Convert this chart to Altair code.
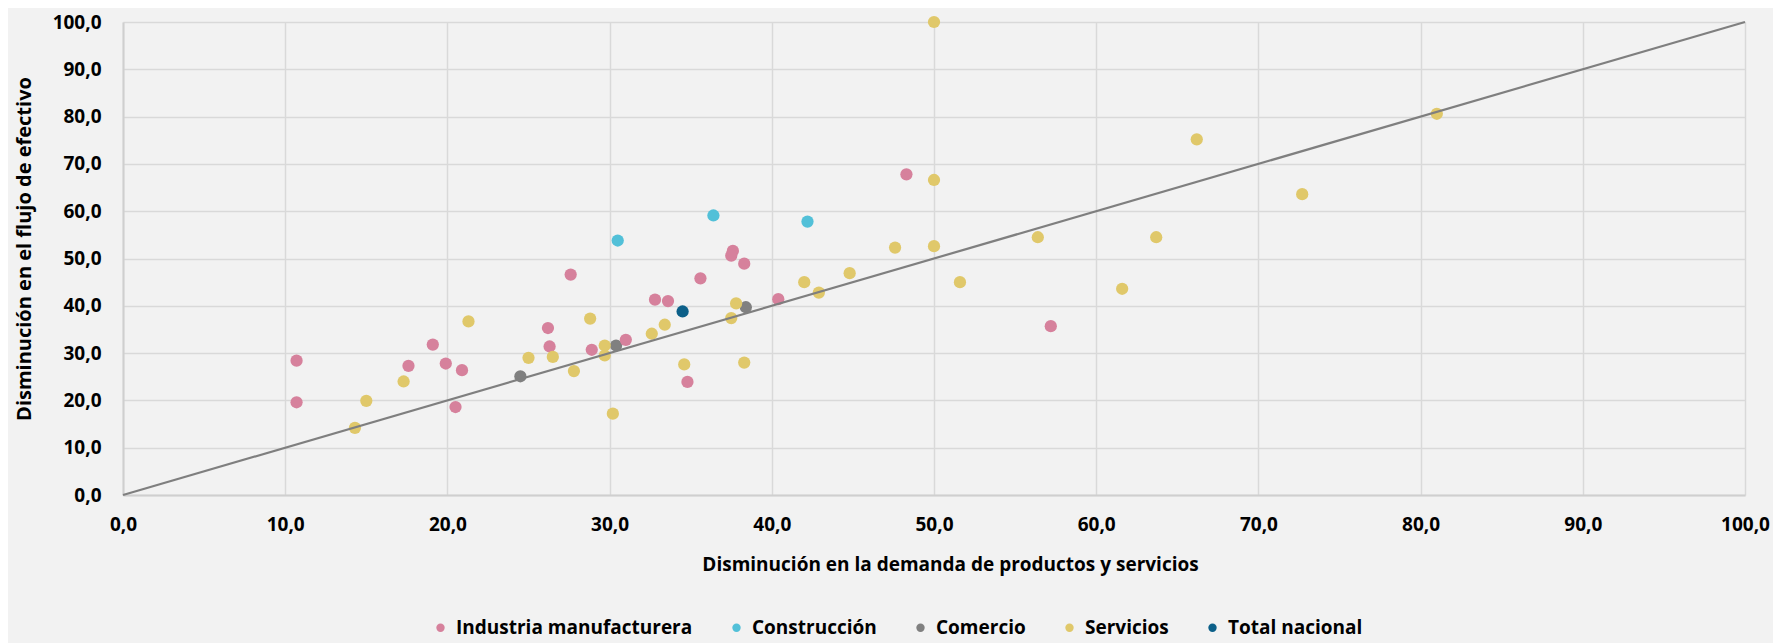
import altair as alt
import pandas as pd

# ---- data ----
series_names = ["Industria manufacturera", "Construcción", "Comercio", "Servicios", "Total nacional"]
series_colors = ["#d6819c", "#52c0d8", "#808080", "#e0c86a", "#0c6089"]

industria_x = [10.7, 10.7, 17.6, 19.1, 19.9, 20.9, 20.5, 26.2, 26.3, 27.6, 28.9, 31.0,
               32.8, 33.6, 34.8, 35.6, 37.6, 37.5, 38.3, 40.4, 48.3, 57.2]
industria_y = [28.4, 19.6, 27.3, 31.8, 27.8, 26.4, 18.6, 35.3, 31.4, 46.6, 30.7, 32.8,
               41.3, 41.0, 23.9, 45.8, 51.6, 50.6, 48.9, 41.4, 67.8, 35.7]

construccion_x = [30.5, 36.4, 42.2]
construccion_y = [53.8, 59.1, 57.8]

comercio_x = [24.5, 30.4, 38.4]
comercio_y = [25.1, 31.6, 39.7]

servicios_x = [15.0, 14.3, 17.3, 21.3, 25.0, 26.5, 27.8, 28.8, 29.7, 29.7, 30.2, 32.6,
               33.4, 34.6, 37.8, 37.5, 38.3, 42.0, 42.9, 44.8, 47.6, 50.0, 50.0, 50.0,
               51.6, 56.4, 61.6, 63.7, 66.2, 72.7, 81.0]
servicios_y = [19.9, 14.2, 24.0, 36.7, 29.0, 29.2, 26.2, 37.3, 31.6, 29.5, 17.2, 34.1,
               36.0, 27.6, 40.5, 37.4, 28.0, 45.0, 42.8, 46.9, 52.3, 52.6, 66.6, 100.0,
               45.0, 54.5, 43.6, 54.5, 75.2, 63.6, 80.6]

total_x = [34.5]
total_y = [38.8]

diag_x = [0, 100]
diag_y = [0, 100]

tick_values = [0, 10, 20, 30, 40, 50, 60, 70, 80, 90, 100]

x_title = "Disminución en la demanda de productos y servicios"
y_title = "Disminución en el flujo de efectivo"

# ---- build tables ----
rows = []
for name, xs, ys in [
    (series_names[0], industria_x, industria_y),
    (series_names[1], construccion_x, construccion_y),
    (series_names[2], comercio_x, comercio_y),
    (series_names[3], servicios_x, servicios_y),
    (series_names[4], total_x, total_y),
]:
    for xv, yv in zip(xs, ys):
        rows.append({"demanda": xv, "flujo": yv, "sector": name})
points_df = pd.DataFrame(rows)
line_df = pd.DataFrame({"demanda": diag_x, "flujo": diag_y})

FONT = "Open Sans"
W, H = 1622, 473
label_expr = "replace(format(datum.value, '.1f'), '.', ',')"

x_enc = alt.X(
    "demanda:Q",
    scale=alt.Scale(domain=[0, 100], nice=False),
    axis=alt.Axis(
        values=tick_values, labelExpr=label_expr, title=x_title,
        ticks=False, labelPadding=20, labelFontSize=19, labelFlush=False,
        labelOverlap=False,
        titleX=W / 2 + 16, titleY=69, titleBaseline="middle", titleAlign="center",
    ),
)
y_enc = alt.Y(
    "flujo:Q",
    scale=alt.Scale(domain=[0, 100], nice=False),
    axis=alt.Axis(
        values=tick_values, labelExpr=label_expr, title=y_title,
        ticks=False, labelPadding=22, labelFontSize=19, labelFlush=False,
        labelOverlap=False, titleFontSize=20,
        titleX=-99, titleY=H / 2 - 10, titleAngle=-90,
        titleBaseline="middle", titleAlign="center",
    ),
)

points = alt.Chart(points_df).mark_circle(size=150, opacity=1, strokeWidth=0).encode(
    x=x_enc,
    y=y_enc,
    color=alt.Color(
        "sector:N",
        scale=alt.Scale(domain=series_names, range=series_colors),
        legend=alt.Legend(
            orient="none", direction="horizontal", legendX=308, legendY=596,
            title=None, labelFont=FONT, labelFontWeight="bold", labelFontSize=19,
            labelColor="#000000", symbolType="circle", symbolSize=70,
            symbolStrokeWidth=0, labelOffset=6, columnPadding=34, labelLimit=0,
        ),
    ),
    order=alt.Order("sector:N"),
)

diag = alt.Chart(line_df).mark_line(color="#7f7f7f", strokeWidth=2.2).encode(
    x=x_enc, y=y_enc
)

chart = (
    alt.layer(points, diag)
    .properties(
        width=W, height=H, background="#f2f2f2",
        autosize=alt.AutoSizeParams(type="none"),
        padding={"left": 115, "top": 14, "right": 28, "bottom": 148},
    )
    .configure_view(stroke=None)
    .configure_axis(
        labelFont=FONT, labelFontWeight="bold", labelColor="#000000",
        titleFont=FONT, titleFontWeight="bold", titleColor="#000000", titleFontSize=19,
        gridColor="#d9d9d9", gridWidth=1.5,
        domainColor="#cfcfcf", domainWidth=2,
    )
)

chart.save("out.html", embed_options={"renderer": "svg", "actions": False})
